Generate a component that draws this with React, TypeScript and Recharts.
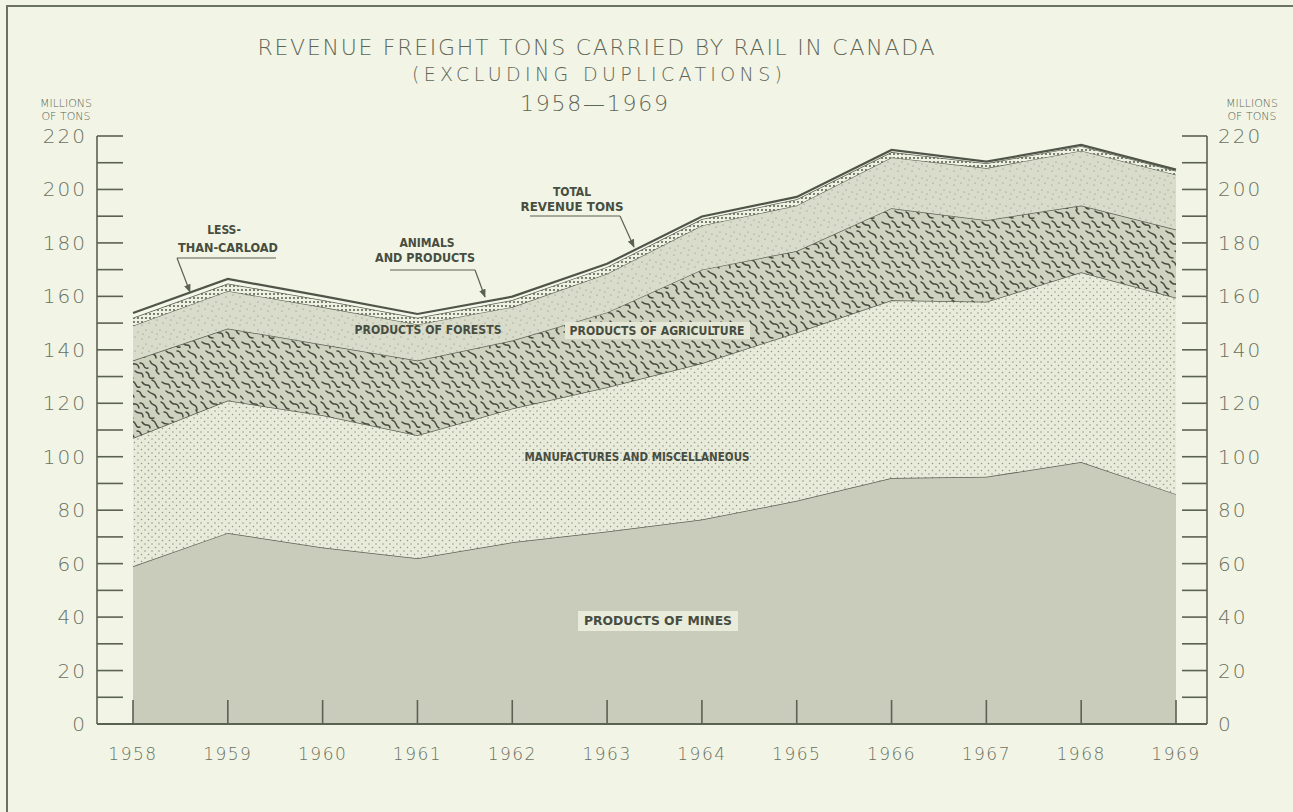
import React from 'react';
import { AreaChart, Area, XAxis, YAxis } from 'recharts';

// values, millions of tons
const years = ['1958', '1959', '1960', '1961', '1962', '1963', '1964', '1965', '1966', '1967', '1968', '1969'];
const mines = [59, 71.5, 66, 62, 68, 72, 76.5, 83.5, 92, 92.5, 98, 86];
const manufactures = [48, 49.5, 49.5, 46, 50, 54, 58.5, 63, 66.5, 65.5, 71, 73.5];
const agriculture = [29, 27, 26.5, 28, 25.5, 28, 35, 30.5, 34.5, 30.5, 25, 25.5];
const forests = [13, 14, 14, 13.5, 12.5, 14.5, 16.5, 17, 19, 19.5, 20.5, 20.5];
const animals = [3, 2.8, 2.6, 2.5, 2.6, 2.5, 2.4, 2.3, 2, 1.8, 1.7, 1.5];
const lessThanCarload = [1.8, 1.7, 1.5, 1.4, 1.3, 1.2, 1, 0.9, 0.8, 0.6, 0.5, 0.4];
const yTicks = [0, 10, 20, 30, 40, 50, 60, 70, 80, 90, 100, 110, 120, 130, 140, 150, 160, 170, 180, 190, 200, 210, 220];

const data = years.map((year, i) => ({
  year,
  mines: mines[i],
  manufactures: manufactures[i],
  agriculture: agriculture[i],
  forests: forests[i],
  animals: animals[i],
  lcl: lessThanCarload[i],
}));

const INK = '#5b6153';
const PAPER = '#f2f5e5';
const NUM_FONT = "'DejaVu Sans', sans-serif";
const LBL_FONT = "'DejaVu Sans Condensed', 'DejaVu Sans', sans-serif";

function YearTick(props: any) {
  const { x, y, payload } = props;
  return (
    <g>
      <line x1={x} x2={x} y1={y} y2={y - 24} stroke={INK} strokeWidth={1.6} />
      <text x={x} y={y + 30} textAnchor="middle" dominantBaseline="central" fill="#6a7062"
        fontFamily={NUM_FONT} fontWeight={200} fontSize={17} letterSpacing={1.5}>
        {payload.value}
      </text>
    </g>
  );
}

function LeftTick(props: any) {
  const { x, y, payload } = props;
  const v = payload.value;
  return (
    <g>
      <line x1={x} x2={x + 26} y1={y} y2={y} stroke={INK} strokeWidth={1.6} />
      {v % 20 === 0 && (
        <text x={x - 10} y={y} textAnchor="end" dominantBaseline="central" fill="#6a7062"
          fontFamily={NUM_FONT} fontWeight={200} fontSize={20} letterSpacing={2}>
          {v}
        </text>
      )}
    </g>
  );
}

function RightTick(props: any) {
  const { x, y, payload } = props;
  const v = payload.value;
  return (
    <g>
      <line x1={x - 25} x2={x} y1={y} y2={y} stroke={INK} strokeWidth={1.6} />
      {v % 20 === 0 && (
        <text x={x + 11} y={y} textAnchor="start" dominantBaseline="central" fill="#6a7062"
          fontFamily={NUM_FONT} fontWeight={200} fontSize={20} letterSpacing={2}>
          {v}
        </text>
      )}
    </g>
  );
}

function Patterns() {
  return (
    <svg width={0} height={0} style={{ position: 'absolute' }}>
      <defs>
        <pattern id="dots" width={7} height={7} patternUnits="userSpaceOnUse">
          <rect width={7} height={7} fill="#e8ebd9" />
          <circle cx={1.5} cy={1.5} r={0.75} fill="#8d9282" />
          <circle cx={5} cy={5} r={0.75} fill="#8d9282" />
        </pattern>
        <pattern id="worms" width={40} height={40} patternUnits="userSpaceOnUse">
          <rect width={40} height={40} fill="#cfd2bf" />
          <g stroke="#474d41" strokeWidth={1.5} fill="none" strokeLinecap="round">
            <path d="M1 2 q3 1 4 4 t4 3" />
            <path d="M10 1 q2 3 5 3 t4 4" />
            <path d="M20 3 q3 0 4 3 t4 2" />
            <path d="M30 1 q1 3 4 4 t3 5" />
            <path d="M4 12 q3 0 4 3 t5 3" />
            <path d="M15 11 q2 2 5 2 t3 4" />
            <path d="M26 12 q3 1 3 4 t5 2" />
            <path d="M36 10 q1 3 3 4" />
            <path d="M2 22 q2 2 5 2 t3 4" />
            <path d="M12 21 q3 1 4 4 t4 2" />
            <path d="M22 22 q2 3 5 3 t3 3" />
            <path d="M32 20 q3 1 4 4 t3 4" />
            <path d="M6 31 q2 2 4 2 t4 4" />
            <path d="M17 31 q3 0 4 3 t4 3" />
            <path d="M28 31 q2 2 5 3 t3 4" />
            <path d="M0 36 q2 1 3 3" />
          </g>
        </pattern>
        <pattern id="stipple" width={14} height={14} patternUnits="userSpaceOnUse">
          <rect width={14} height={14} fill="#d9dccb" />
          <circle cx={2} cy={3} r={0.55} fill="#7c8172" />
          <circle cx={9} cy={1} r={0.55} fill="#7c8172" />
          <circle cx={6} cy={8} r={0.55} fill="#7c8172" />
          <circle cx={12} cy={10} r={0.55} fill="#7c8172" />
          <circle cx={3} cy={12} r={0.55} fill="#7c8172" />
        </pattern>
        <pattern id="beads" width={4} height={4} patternUnits="userSpaceOnUse">
          <rect width={4} height={4} fill="#eef1e2" />
          <circle cx={2} cy={2} r={1} fill="#555b4d" />
        </pattern>
        <marker id="arrow" viewBox="0 0 10 10" refX={9} refY={5} markerWidth={7} markerHeight={9} orient="auto">
          <path d="M0 1 L10 5 L0 9 z" fill={INK} />
        </marker>
      </defs>
    </svg>
  );
}

function Notes() {
  const t = { fill: '#474d40', fontFamily: LBL_FONT, fontWeight: 600, fontSize: 12, textAnchor: 'middle' as const };
  const big = { fill: '#5f6557', fontFamily: NUM_FONT, fontWeight: 200, textAnchor: 'middle' as const };
  return (
    <svg width={1293} height={812} style={{ position: 'absolute', left: 0, top: 0, pointerEvents: 'none' }}>
      <path d="M7 830 V6 H1293" fill="none" stroke="#6b7163" strokeWidth={2} />
      <text x={596} y={55} fontSize={22} textLength={677} lengthAdjust="spacing" {...big}>
        REVENUE FREIGHT TONS CARRIED BY RAIL IN CANADA
      </text>
      <text x={597} y={81} fontSize={19} textLength={370} lengthAdjust="spacing" {...big}>
        (EXCLUDING DUPLICATIONS)
      </text>
      <text x={594} y={111} fontSize={22} textLength={148} lengthAdjust="spacing" {...big}>
        1958—1969
      </text>
      <text x={66} y={107} fontSize={11} {...big}>MILLIONS</text>
      <text x={66} y={120} fontSize={11} {...big}>OF TONS</text>
      <text x={1252} y={107} fontSize={11} {...big}>MILLIONS</text>
      <text x={1252} y={120} fontSize={11} {...big}>OF TONS</text>

      <text x={224} y={234} {...t}>LESS-</text>
      <text x={228} y={252} textLength={100} lengthAdjust="spacingAndGlyphs" {...t}>THAN-CARLOAD</text>
      <line x1={177} y1={258} x2={276} y2={258} stroke={INK} strokeWidth={1.2} />
      <line x1={177} y1={258} x2={190} y2={292} stroke={INK} strokeWidth={1.2} markerEnd="url(#arrow)" />

      <text x={427} y={247} {...t}>ANIMALS</text>
      <text x={425} y={262} textLength={100} lengthAdjust="spacingAndGlyphs" {...t}>AND PRODUCTS</text>
      <line x1={390} y1={270} x2={475} y2={270} stroke={INK} strokeWidth={1.2} />
      <line x1={475} y1={270} x2={485} y2={297} stroke={INK} strokeWidth={1.2} markerEnd="url(#arrow)" />

      <text x={572} y={196} {...t}>TOTAL</text>
      <text x={572} y={211} textLength={103} lengthAdjust="spacingAndGlyphs" {...t}>REVENUE TONS</text>
      <line x1={530} y1={216} x2={620} y2={216} stroke={INK} strokeWidth={1.2} />
      <line x1={620} y1={216} x2={634} y2={247} stroke={INK} strokeWidth={1.2} markerEnd="url(#arrow)" />

      <text x={428} y={334} fontSize={11} textLength={147} lengthAdjust="spacingAndGlyphs" {...t}>PRODUCTS OF FORESTS</text>
      <rect x={565} y={322} width={185} height={17} fill="#e4e7d5" />
      <text x={657} y={335} fontSize={11} textLength={175} lengthAdjust="spacingAndGlyphs" {...t}>PRODUCTS OF AGRICULTURE</text>
      <text x={637} y={461} fontSize={11} textLength={225} lengthAdjust="spacingAndGlyphs" {...t}>MANUFACTURES AND MISCELLANEOUS</text>
      <rect x={578} y={611} width={160} height={20} fill="#e9ecdb" />
      <text x={658} y={625} fontSize={11} textLength={148} lengthAdjust="spacingAndGlyphs" {...t}>PRODUCTS OF MINES</text>
    </svg>
  );
}

export default function App() {
  return (
    <div style={{ position: 'absolute', left: 0, top: 0, width: 1293, height: 812, background: PAPER, overflow: 'hidden' }}>
      <Patterns />
      <AreaChart width={1293} height={812} data={data} margin={{ top: 136, right: 26, bottom: 58, left: 37 }}>
        <XAxis dataKey="year" height={30} padding={{ left: 36, right: 31 }} interval={0} tickSize={0} tickMargin={0}
          tickLine={false} axisLine={{ stroke: INK, strokeWidth: 2 }} tick={<YearTick />} />
        <YAxis yAxisId="l" width={60} domain={[0, 220]} ticks={yTicks} interval={0} tickSize={0} tickMargin={0}
          tickLine={false} axisLine={{ stroke: INK, strokeWidth: 1.6 }} tick={<LeftTick />} />
        <YAxis yAxisId="r" orientation="right" width={60} domain={[0, 220]} ticks={yTicks} interval={0} tickSize={0}
          tickMargin={0} tickLine={false} axisLine={{ stroke: INK, strokeWidth: 1.6 }} tick={<RightTick />} />
        {/* invisible series so the right-hand scale gets built */}
        <Area yAxisId="r" type="linear" dataKey="mines" fill="none" stroke="none" isAnimationActive={false} />
        <Area yAxisId="l" type="linear" dataKey="mines" stackId="a" fill="#c9ccbb" fillOpacity={1}
          stroke={INK} strokeWidth={1.5} isAnimationActive={false} />
        <Area yAxisId="l" type="linear" dataKey="manufactures" stackId="a" fill="url(#dots)" fillOpacity={1}
          stroke={INK} strokeWidth={1.5} isAnimationActive={false} />
        <Area yAxisId="l" type="linear" dataKey="agriculture" stackId="a" fill="url(#worms)" fillOpacity={1}
          stroke={INK} strokeWidth={1.5} isAnimationActive={false} />
        <Area yAxisId="l" type="linear" dataKey="forests" stackId="a" fill="url(#stipple)" fillOpacity={1}
          stroke={INK} strokeWidth={1.2} isAnimationActive={false} />
        <Area yAxisId="l" type="linear" dataKey="animals" stackId="a" fill="url(#beads)" fillOpacity={1}
          stroke={INK} strokeWidth={1.4} isAnimationActive={false} />
        <Area yAxisId="l" type="linear" dataKey="lcl" stackId="a" fill="#f4f6ea" fillOpacity={1}
          stroke="#4f5548" strokeWidth={2.2} isAnimationActive={false} />
      </AreaChart>
      <Notes />
    </div>
  );
}
